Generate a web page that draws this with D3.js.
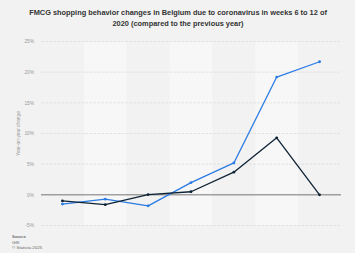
<!DOCTYPE html>
<html>
<head>
<meta charset="utf-8">
<script src="https://cdn.jsdelivr.net/npm/d3@7"></script>
<style>
  body { margin: 0; background: #f2f2f2; }
  svg { display: block; font-family: "Liberation Sans", Arial, sans-serif; }
</style>
</head>
<body>
<script>
const weeks = ["Week 6", "Week 7", "Week 8", "Week 9", "Week 10", "Week 11", "Week 12"]
const series1 = [-1.5, -0.7, -1.8, 2.0, 5.2, 19.2, 21.7]
const series2 = [-1.0, -1.6, 0.05, 0.5, 3.7, 9.3, 0.0]
const yTicks = [-5, 0, 5, 10, 15, 20, 25]

const width = 355, height = 253
const m = { left: 41, right: 14, top: 42, bottom: 28 }

const svg = d3.select("body").append("svg")
    .attr("width", width).attr("height", height)

svg.append("rect").attr("width", width).attr("height", height).attr("fill", "#f2f2f2")

const x = d3.scaleBand().domain(weeks).range([m.left, width - m.right])
const y = d3.scaleLinear().domain([-5, 25]).range([225.5, 41.5])

// alternating column bands
svg.selectAll("rect.band")
    .data(weeks)
    .join("rect")
    .attr("class", "band")
    .attr("x", (d) => x(d))
    .attr("y", y(25))
    .attr("width", x.bandwidth())
    .attr("height", y(-5) - y(25))
    .attr("fill", (_, i) => i % 2 ? "#f7f7f7" : "#f2f2f2")

// gridlines
svg.selectAll("line.grid")
    .data(yTicks.filter((t) => t !== 0))
    .join("line")
    .attr("class", "grid")
    .attr("x1", m.left).attr("x2", width - m.right)
    .attr("y1", (d) => y(d)).attr("y2", (d) => y(d))
    .attr("stroke", "#dcdcdc")
    .attr("stroke-width", 0.7)
    .attr("stroke-dasharray", "3,1")

svg.append("line")
    .attr("x1", m.left).attr("x2", width - m.right)
    .attr("y1", y(0)).attr("y2", y(0))
    .attr("stroke", "#555").attr("stroke-width", 0.8)

// y tick labels
svg.selectAll("text.ytick")
    .data(yTicks)
    .join("text")
    .attr("class", "ytick")
    .attr("x", 34)
    .attr("y", (d) => y(d) + 1.7)
    .attr("text-anchor", "end")
    .attr("font-size", 4.8)
    .attr("fill", "#999")
    .text((d) => d + "%")

svg.append("text")
    .attr("transform", `translate(20,${y(10)}) rotate(-90)`)
    .attr("text-anchor", "middle")
    .attr("font-size", 4.8)
    .attr("fill", "#999")
    .text("Year-on-year change")

// title
const title = svg.append("text")
    .attr("text-anchor", "middle")
    .attr("font-size", 7.4)
    .attr("font-weight", "bold")
    .attr("fill", "#333")
title.append("tspan").attr("x", 178).attr("y", 15)
    .text("FMCG shopping behavior changes in Belgium due to coronavirus in weeks 6 to 12 of")
title.append("tspan").attr("x", 178).attr("y", 26)
    .text("2020 (compared to the previous year)")

const cx = (_, i) => x(weeks[i]) + x.bandwidth() / 2
const line = d3.line().x(cx).y((d) => y(d))

;[[series1, "#2a7be4"], [series2, "#0d2235"]].forEach(([data, color]) => {
    svg.append("path")
        .attr("d", line(data))
        .attr("fill", "none")
        .attr("stroke", color)
        .attr("stroke-width", 1.3)
        .attr("stroke-linejoin", "round")
    svg.append("g").selectAll("circle")
        .data(data)
        .join("circle")
        .attr("cx", cx)
        .attr("cy", (d) => y(d))
        .attr("r", 1.4)
        .attr("fill", color)
})

// footer
const foot = svg.append("g").attr("font-size", 4.4).attr("fill", "#666")
foot.append("text").attr("x", 12).attr("y", 238).attr("fill", "#333").text("Source")
foot.append("text").attr("x", 12).attr("y", 243.5).text("GfK")
foot.append("text").attr("x", 12).attr("y", 249).text("© Statista 2025")
</script>
</body>
</html>
